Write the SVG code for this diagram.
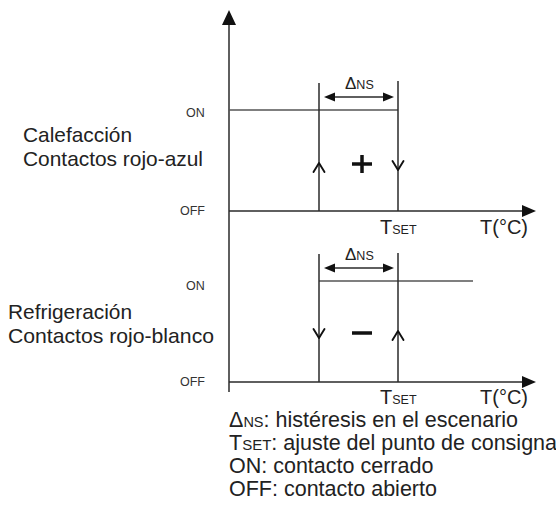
<svg xmlns="http://www.w3.org/2000/svg" width="556" height="508" viewBox="0 0 556 508">
<style>
.ln{stroke:#2a2a2a;stroke-width:1.5;fill:none}
.gl{stroke:#555;stroke-width:1.4;fill:none}
.ch{stroke:#111;stroke-width:1.9;fill:none;stroke-linecap:round;stroke-linejoin:round}
.ah{fill:#111;stroke:none}
.sg{stroke:#111;stroke-width:3.5;fill:none}
text{font-family:"Liberation Sans",Arial,sans-serif;fill:#222}
.big{font-size:21px}
.leg{font-size:21.5px}
.sm{font-size:12.5px;fill:#333}
.ax{font-size:20px}
</style>
<rect width="556" height="508" fill="#fff"/>
<g id="labels">
<text class="big" x="23" y="142" textLength="109" lengthAdjust="spacingAndGlyphs">Calefacción</text>
<text class="big" x="23" y="166" textLength="180" lengthAdjust="spacingAndGlyphs">Contactos rojo-azul</text>
<text class="big" x="8" y="319" textLength="124" lengthAdjust="spacingAndGlyphs">Refrigeración</text>
<text class="big" x="8" y="343" textLength="206" lengthAdjust="spacingAndGlyphs">Contactos rojo-blanco</text>
<text class="sm" x="186" y="117">ON</text>
<text class="sm" x="180" y="215">OFF</text>
<text class="sm" x="186" y="290">ON</text>
<text class="sm" x="180" y="386">OFF</text>
</g>
<g id="axes">
<line class="ln" x1="229" y1="22" x2="229" y2="392"/>
<polygon class="ah" points="229,10 222,25 236,25"/>
<line class="ln" x1="229" y1="211" x2="524" y2="211"/>
<polygon class="ah" points="536,211 522,205 522,217"/>
<line class="ln" x1="229" y1="382" x2="524" y2="382"/>
<polygon class="ah" points="536,382 522,376 522,388"/>
<text class="ax" x="380" y="234">T<tspan font-size="12.5">SET</tspan></text>
<text class="ax" x="480" y="234">T(°C)</text>
<text class="ax" x="380" y="404">T<tspan font-size="12.5">SET</tspan></text>
<text class="ax" x="480" y="404">T(°C)</text>
</g>
<g id="heating">
<line class="gl" x1="229" y1="110" x2="398" y2="110"/>
<line class="ln" x1="319" y1="83" x2="319" y2="211"/>
<line class="ln" x1="398" y1="81" x2="398" y2="211"/>
<polyline class="ch" points="313.5,172 319,163 324.5,172"/>
<polyline class="ch" points="392.5,161 398,170 403.5,161"/>
<line class="sg" x1="352" y1="164" x2="372" y2="164"/>
<line class="sg" x1="362" y1="155" x2="362" y2="173"/>
<line class="ln" x1="333" y1="97" x2="385" y2="97"/>
<polygon class="ah" points="324,97 335,92.5 335,101.5"/>
<polygon class="ah" points="394,97 383,92.5 383,101.5"/>
<text x="345" y="89" font-size="17">Δ<tspan font-size="12.5">NS</tspan></text>
</g>
<g id="cooling">
<line class="gl" x1="319" y1="281" x2="473" y2="281"/>
<line class="ln" x1="319" y1="254" x2="319" y2="382"/>
<line class="ln" x1="398" y1="253" x2="398" y2="382"/>
<polyline class="ch" points="313.5,329 319,338 324.5,329"/>
<polyline class="ch" points="392.5,340 398,331 403.5,340"/>
<line class="sg" x1="352" y1="333" x2="372" y2="333"/>
<line class="ln" x1="333" y1="268" x2="385" y2="268"/>
<polygon class="ah" points="324,268 335,263.5 335,272.5"/>
<polygon class="ah" points="394,268 383,263.5 383,272.5"/>
<text x="345" y="260" font-size="17">Δ<tspan font-size="12.5">NS</tspan></text>
</g>
<g id="legend">
<text class="leg" x="229" y="427">Δ<tspan font-size="14.5">NS</tspan>: histéresis en el escenario</text>
<text class="leg" x="229" y="450">T<tspan font-size="15">SET</tspan>: ajuste del punto de consigna</text>
<text class="leg" x="229" y="473">ON: contacto cerrado</text>
<text class="leg" x="229" y="496">OFF: contacto abierto</text>
</g>
</svg>
